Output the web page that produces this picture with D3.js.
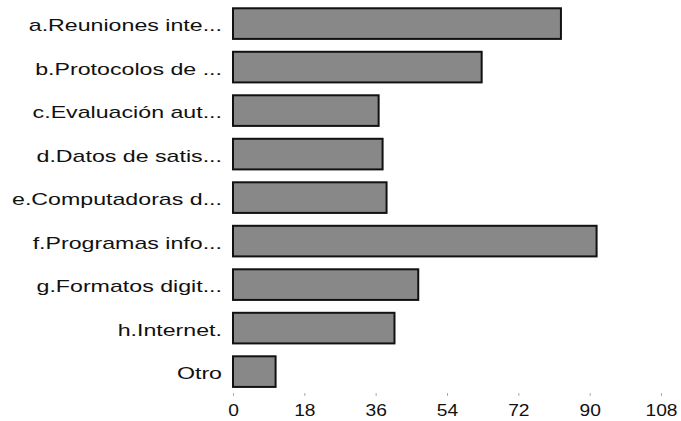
<!DOCTYPE html>
<html>
<head>
<meta charset="utf-8">
<script src="https://cdn.jsdelivr.net/npm/d3@7"></script>
<style>
html,body{margin:0;padding:0;background:#fff;}
svg{display:block;}
text{font-family:"Liberation Sans",Arial,Helvetica,sans-serif;fill:#111;}
</style>
</head>
<body>
<svg id="chart" width="681" height="421"></svg>
<script>
const categories = ["a.Reuniones inte...","b.Protocolos de ...","c.Evaluación aut...","d.Datos de satis...","e.Computadoras d...","f.Programas info...","g.Formatos digit...","h.Internet.","Otro"];
const values = [83, 63, 37, 38, 39, 92, 47, 41, 11];
const tickValues = [0, 18, 36, 54, 72, 90, 108];

const svg = d3.select("#chart");
const x = d3.scaleLinear().domain([0, 108]).range([233, 661]);
const y = d3.scaleBand().domain(categories).range([-3.6, 398.8]).padding(0.25);

const data = categories.map((c, i) => ({c, v: values[i]}));

svg.append("g").selectAll("rect").data(data).join("rect")
  .attr("x", x(0))
  .attr("y", d => y(d.c) + 1)
  .attr("width", d => x(d.v) - x(0) - 1)
  .attr("height", y.bandwidth() - 2)
  .attr("fill", "#888888")
  .attr("stroke", "#111")
  .attr("stroke-width", 2);

// category labels (horizontally stretched like the reference)
svg.append("g").selectAll("text").data(data).join("text")
  .attr("transform", d => `translate(222,${y(d.c) + y.bandwidth()/2 + 2}) scale(1.45,1)`)
  .attr("text-anchor", "end")
  .attr("dy", "0.35em")
  .style("font-size", "16px")
  .text(d => d.c);

// bottom axis
const axis = d3.axisBottom(x).tickValues(tickValues).tickSize(3).tickPadding(0).tickFormat(d3.format("d"));
const gAxis = svg.append("g").attr("transform", "translate(0,393)").call(axis);
gAxis.select(".domain").remove();
gAxis.selectAll(".tick line").attr("stroke", "#aaa");
gAxis.selectAll(".tick text")
  .attr("y", 0)
  .attr("dy", 0)
  .attr("transform", "translate(0,23) scale(1.2,1)")
  .style("font-size", "16px")
  .style("font-family", "\"Liberation Sans\",Arial,sans-serif")
  .attr("fill", "#111");
</script>
</body>
</html>
